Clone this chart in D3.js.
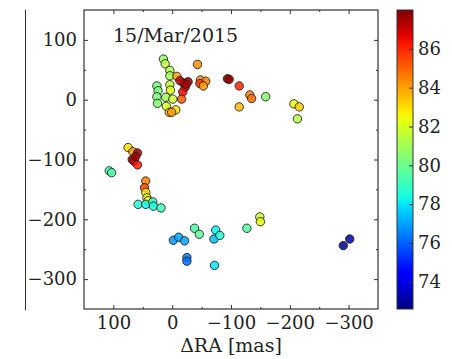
<!DOCTYPE html>
<html>
<head>
<meta charset="utf-8">
<script src="https://cdn.jsdelivr.net/npm/d3@7"></script>
<style>
  body { margin: 0; background: #fff; }
  svg text { font-family: "DejaVu Serif", serif; fill: #222; }
</style>
</head>
<body>
<svg id="chart" width="452" height="359"></svg>
<script>
// offsets in mas, and the colour value of each spot
const dra = [15, 12, -43, 4, 4, -8, 26, 24, 4, 3, -19, -27, -22, -18, -16, 26, 25, 11, -1, 10, 5, -6, 1,
  -48, -57, -47, -53, -94, -97, -114, -132, -135, -159, -114, -207, -216, -213,
  75, 67, 59, 68, 65, 59, 107, 103, 45, 47, 45, 43, 41, 58, 45, 33, 32, 19,
  -38, -46, -2, -11, -21, -74, -71, -81, -25, -25, -72, -127, -149, -150, -291, -302,
  -24, -13, 62];
const ddec = [68, 60, 59, 49, 40, 39, 23, 15, 25, 16, 28, 30, 21, 13, 1, 5, -6, 4, 1, -11, -21, -17, -21,
  33, 31, 27, 23, 35, 34, 23, 8, 2, 5, -12, -7, -12, -32,
  -80, -87, -89, -100, -103, -109, -119, -122, -136, -147, -155, -164, -169, -175, -175, -171, -178, -181,
  -215, -225, -235, -230, -236, -218, -233, -227, -264, -270, -277, -215, -196, -204, -244, -233,
  26, 32, -95];
const cval = [80.8, 81.5, 84.3, 81.3, 81, 84, 80.2, 80.3, 81.6, 82.2, 87.6, 87.8, 87, 86.5, 85.2, 80.4, 80.5, 80.9, 81.8, 82, 83.5, 83, 84,
  84.2, 84.5, 85.8, 84, 87.8, 87.6, 86, 84.5, 84.8, 80.5, 83.6, 82.3, 83.2, 81.4,
  83, 84, 87.5, 87.8, 86.8, 86.2, 79.3, 79.5, 84.6, 85.5, 83, 82.2, 82.5, 78.6, 78.3, 78.8, 78.4, 79.2,
  79.4, 79.8, 76.8, 77, 77, 78.2, 77.4, 78.6, 76.4, 76.2, 78, 79.6, 81.8, 82.3, 72.8, 73.2,
  87.4, 87.2, 87.6];

const xMajor = [100, 0, -100, -200, -300];
const xMinor = [50, -50, -150, -250];
const yMajor = [100, 0, -100, -200, -300];
const yMinor = [50, -50, -150, -250];
const cbTicks = [74, 76, 78, 80, 82, 84, 86];
const dateLabel = "15/Mar/2015";

// matplotlib jet
function jet(t) {
  const seg = (pts) => {
    for (let i = 1; i < pts.length; i++) {
      if (t <= pts[i][0]) {
        const [x0, y0] = pts[i - 1], [x1, y1] = pts[i];
        return y0 + (y1 - y0) * (t - x0) / (x1 - x0);
      }
    }
    return pts[pts.length - 1][1];
  };
  const r = seg([[0, 0], [0.35, 0], [0.66, 1], [0.89, 1], [1, 0.5]]);
  const g = seg([[0, 0], [0.125, 0], [0.375, 1], [0.64, 1], [0.91, 0], [1, 0]]);
  const b = seg([[0, 0.5], [0.11, 1], [0.34, 1], [0.65, 0], [1, 0]]);
  return d3.rgb(r * 255, g * 255, b * 255).toString();
}

const svg = d3.select("#chart");
const fmt = (d) => String(d).replace("-", "\u2212");

const x = d3.scaleLinear().domain([150, -350]).range([84, 378]);
const y = d3.scaleLinear().domain([-350, 150]).range([309, 10]);
const color = d3.scaleSequential(jet).domain([72.6, 88]);

// odd line on the far left
svg.append("line")
  .attr("x1", 25.5).attr("x2", 25.5).attr("y1", 10).attr("y2", 310)
  .attr("stroke", "#333").attr("stroke-width", 1);

// points
const pts = dra.map((d, i) => ({ x: d, y: ddec[i], c: cval[i] }));
svg.append("g")
  .selectAll("circle")
  .data(pts)
  .join("circle")
  .attr("cx", (d) => x(d.x))
  .attr("cy", (d) => y(d.y))
  .attr("r", 4.2)
  .attr("fill", (d) => color(d.c))
  .attr("fill-opacity", 0.85)
  .attr("stroke", "#222")
  .attr("stroke-width", 0.9);

// axes, ticks inward on all four sides
function tickAxis(axis, vals, size, label) {
  return axis.tickValues(vals).tickSize(size).tickPadding(label ? 6 + size : 0)
    .tickFormat(label ? fmt : "");
}
function addAxis(axisGen, tr) {
  const g = svg.append("g").attr("transform", tr).call(axisGen);
  g.select(".domain").remove();
  g.selectAll("line").attr("stroke", "#333");
  g.selectAll("text").attr("font-size", 18).attr("font-family", "DejaVu Serif").attr("fill", "#222");
  return g;
}
addAxis(tickAxis(d3.axisBottom(x), xMajor, -4, true), "translate(0,309)")
  .selectAll("text").attr("dy", "0.75em").attr("y", 6);
addAxis(tickAxis(d3.axisBottom(x), xMinor, -2, false), "translate(0,309)");
addAxis(tickAxis(d3.axisTop(x), xMajor, -4, false), "translate(0,10)");
addAxis(tickAxis(d3.axisTop(x), xMinor, -2, false), "translate(0,10)");
addAxis(tickAxis(d3.axisLeft(y), yMajor, -4, true), "translate(84,0)")
  .selectAll("text").attr("x", -7);
addAxis(tickAxis(d3.axisLeft(y), yMinor, -2, false), "translate(84,0)");
addAxis(tickAxis(d3.axisRight(y), yMajor, -4, false), "translate(378,0)");
addAxis(tickAxis(d3.axisRight(y), yMinor, -2, false), "translate(378,0)");

// frame
svg.append("rect")
  .attr("x", 84).attr("y", 10).attr("width", 294).attr("height", 299)
  .attr("fill", "none").attr("stroke", "#333").attr("stroke-width", 1.2);

svg.append("text")
  .attr("x", 113).attr("y", 42)
  .attr("font-size", 19)
  .text(dateLabel);

svg.append("text")
  .attr("x", 231).attr("y", 352)
  .attr("text-anchor", "middle")
  .attr("font-size", 19)
  .text("\u0394RA [mas]");

// colour bar
const cb = d3.scaleLinear().domain([72.6, 88]).range([309, 10]);
const defs = svg.append("defs");
const grad = defs.append("linearGradient")
  .attr("id", "jetgrad").attr("x1", 0).attr("y1", 1).attr("x2", 0).attr("y2", 0);
d3.range(0, 1.0001, 0.02).forEach((t) => {
  grad.append("stop").attr("offset", t).attr("stop-color", jet(t));
});
svg.append("rect")
  .attr("x", 397).attr("y", 10).attr("width", 16).attr("height", 299)
  .attr("fill", "url(#jetgrad)")
  .attr("stroke", "#333").attr("stroke-width", 1);
const cbAxis = d3.axisRight(cb).tickValues(cbTicks).tickSize(-4).tickPadding(5).tickFormat(fmt);
addAxis(cbAxis, "translate(413,0)");
</script>
</body>
</html>
